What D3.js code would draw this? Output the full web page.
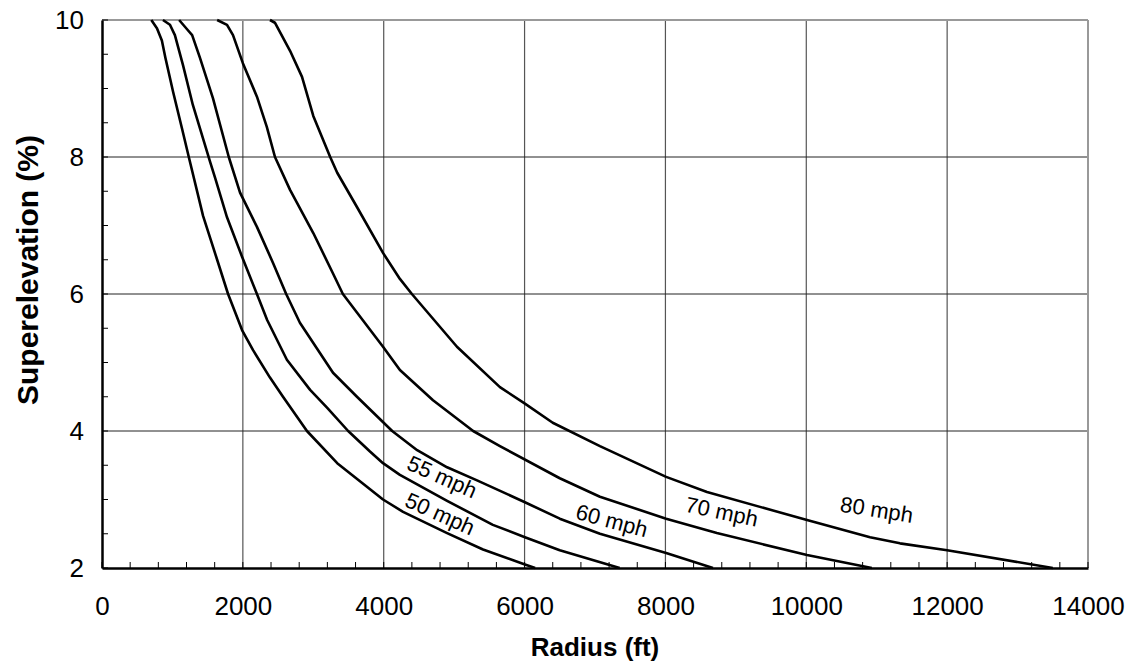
<!DOCTYPE html>
<html><head><meta charset="utf-8">
<script src="https://cdn.jsdelivr.net/npm/d3@7"></script>
<style>
body{margin:0;background:#fff;}
text{font-family:"Liberation Sans",Arial,sans-serif;}
</style></head>
<body><svg id="c" width="1131" height="669"></svg>
<script>
// ---- data ----
const speeds = ["50 mph","55 mph","60 mph","70 mph","80 mph"];
const radius50 = [700,780,850,900,1010,1135,1235,1435,1635,1790,1990,2145,2385,2570,2910,3340,3990,4275,4900,5410,6005,6150];
const super50  = [10,9.88,9.70,9.45,8.95,8.42,7.99,7.14,6.5,6.0,5.47,5.18,4.78,4.5,4.0,3.53,3.0,2.82,2.51,2.27,2.05,2.0];
const radius55 = [865,965,1035,1150,1290,1420,1535,1605,1775,1990,2200,2345,2625,2955,3195,3495,3805,3990,4230,4900,5550,6005,6500,7350];
const super55  = [10,9.93,9.78,9.34,8.76,8.32,7.93,7.70,7.12,6.54,6.0,5.62,5.04,4.6,4.34,4.0,3.70,3.53,3.36,2.98,2.63,2.45,2.26,2.0];
const radius60 = [1095,1220,1280,1390,1575,1800,1960,2200,2430,2615,2810,3280,3620,4120,4475,4900,5325,6005,6500,7070,8010,8675];
const super60  = [10,9.85,9.78,9.45,8.86,8.0,7.48,6.98,6.45,6.0,5.58,4.85,4.5,4.0,3.72,3.47,3.28,2.96,2.72,2.5,2.22,2.0];
const radius70 = [1635,1775,1860,2000,2200,2340,2456,2670,3000,3280,3420,3990,4230,4700,5270,5650,6500,7070,8010,8730,10010,10930];
const super70  = [10,9.93,9.78,9.37,8.88,8.44,8.0,7.52,6.89,6.30,6.0,5.23,4.89,4.45,4.0,3.78,3.31,3.04,2.72,2.51,2.19,2.0];
const radius80 = [2385,2455,2670,2840,3000,3240,3340,3620,3990,4230,4400,5040,5650,6005,6400,7070,8010,8590,10010,10905,11330,12000,13500];
const super80  = [10,9.96,9.55,9.17,8.6,8.0,7.77,7.27,6.6,6.22,6.0,5.23,4.64,4.40,4.12,3.78,3.33,3.11,2.70,2.45,2.36,2.26,2.0];
const xTicks = [0,2000,4000,6000,8000,10000,12000,14000];
const yTicks = [2,4,6,8,10];
const labelRadius = [4800,4830,7240,8800,11000];
const labelSuper  = [2.79,3.33,2.69,2.82,2.85];
const labelAngle  = [24,24,15,12,9];

const series = [
  {name:speeds[0], r:radius50, e:super50},
  {name:speeds[1], r:radius55, e:super55},
  {name:speeds[2], r:radius60, e:super60},
  {name:speeds[3], r:radius70, e:super70},
  {name:speeds[4], r:radius80, e:super80}
];

// ---- layout ----
const W=1131,H=669, m={l:102,r:43,t:20,b:101};
const svg=d3.select("#c");
const x=d3.scaleLinear().domain([0,14000]).range([m.l,W-m.r]);
const y=d3.scaleLinear().domain([2,10]).range([H-m.b,m.t]);

// grid
const g=svg.append("g");
g.selectAll(".vg").data(xTicks.slice(1,-1)).enter().append("line")
  .attr("x1",d=>x(d)).attr("x2",d=>x(d)).attr("y1",y(2)).attr("y2",y(10))
  .attr("stroke","#555").attr("stroke-width",1.2);
g.selectAll(".hg").data(yTicks.slice(1,-1)).enter().append("line")
  .attr("x1",x(0)).attr("x2",x(14000)).attr("y1",d=>y(d)).attr("y2",d=>y(d))
  .attr("stroke","#222").attr("stroke-width",1);
// top & right border
svg.append("line").attr("x1",x(0)).attr("x2",x(14000)).attr("y1",y(10)).attr("y2",y(10)).attr("stroke","#999").attr("stroke-width",2);
svg.append("line").attr("x1",x(14000)).attr("x2",x(14000)).attr("y1",y(10)).attr("y2",y(2)).attr("stroke","#999").attr("stroke-width",2);

// minor ticks
const xMinor=d3.range(0,14001,400);
svg.selectAll(".xm").data(xMinor).enter().append("line")
  .attr("x1",d=>x(d)).attr("x2",d=>x(d)).attr("y1",y(2)).attr("y2",y(2)-6)
  .attr("stroke","#000").attr("stroke-width",1);
const yMinor=d3.range(2,10.01,0.5);
svg.selectAll(".ym").data(yMinor).enter().append("line")
  .attr("x1",x(0)).attr("x2",x(0)+6).attr("y1",d=>y(d)).attr("y2",d=>y(d))
  .attr("stroke","#000").attr("stroke-width",1);

// axes
const xa=svg.append("g").attr("transform",`translate(0,${y(2)})`)
  .call(d3.axisBottom(x).tickValues(xTicks).tickSize(0).tickPadding(29).tickFormat(d3.format("d")));
const ya=svg.append("g").attr("transform",`translate(${x(0)},0)`)
  .call(d3.axisLeft(y).tickValues(yTicks).tickSize(0).tickPadding(18).tickFormat(d3.format("d")));
[xa,ya].forEach(a=>{a.select(".domain").attr("stroke","#000").attr("stroke-width",2.5);
  a.selectAll("text").attr("font-size",26).attr("fill","#000").attr("font-family","Liberation Sans, Arial, sans-serif");});

// curves
const line=d3.line().x(d=>x(d[0])).y(d=>y(d[1])).curve(d3.curveLinear);
svg.selectAll(".curve").data(series).enter().append("path")
  .attr("d",s=>line(s.r.map((r,i)=>[r,s.e[i]])))
  .attr("fill","none").attr("stroke","#000").attr("stroke-width",2.6).attr("stroke-linejoin","round");

// curve labels
svg.selectAll(".lbl").data(speeds).enter().append("text")
  .attr("transform",(d,i)=>`translate(${x(labelRadius[i])},${y(labelSuper[i])}) rotate(${labelAngle[i]})`)
  .attr("text-anchor","middle").attr("dominant-baseline","central")
  .attr("font-size",22).attr("fill","#000").text(d=>d);

// axis titles
svg.append("text").attr("x",(x(0)+x(14000))/2).attr("y",656).attr("text-anchor","middle")
  .attr("font-size",26).attr("font-weight","bold").text("Radius (ft)");
svg.append("text").attr("transform",`translate(38,270) rotate(-90)`).attr("text-anchor","middle")
  .attr("font-size",30).attr("font-weight","bold").text("Superelevation (%)");
</script></body></html>
